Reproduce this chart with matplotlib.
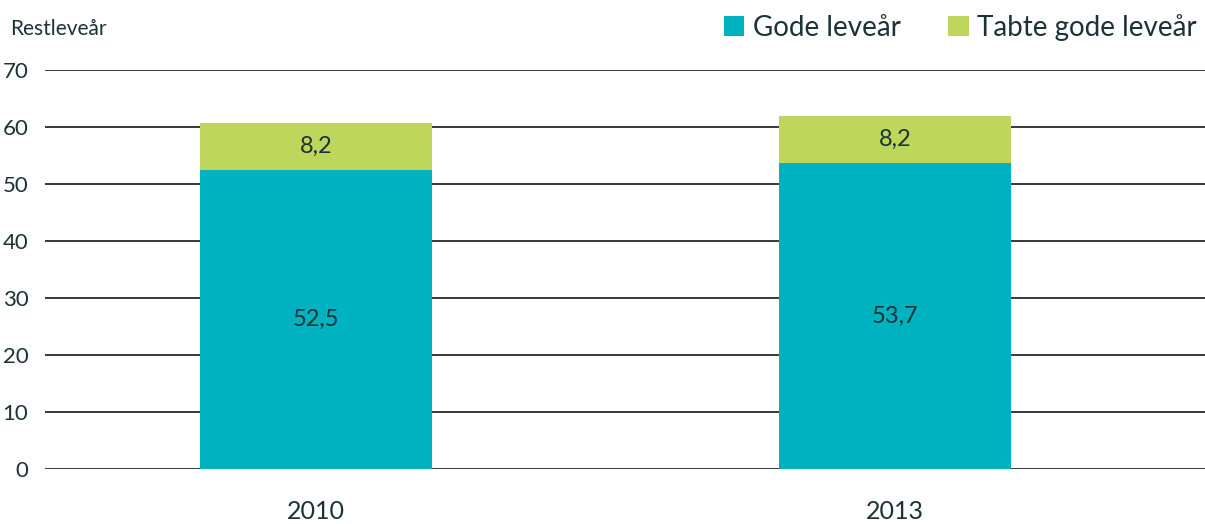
import numpy as np
import matplotlib.pyplot as plt

plt.rcParams['font.family'] = ['Lato', 'DejaVu Sans']

# Data
years = ["2010", "2013"]
gode = [52.5, 53.7]
tabte = [8.2, 8.2]
gode_labels = ["52,5", "53,7"]
tabte_labels = ["8,2", "8,2"]

teal = "#00b2c0"
green = "#bfd65c"
textcol = "#1b3236"

fig = plt.figure(figsize=(12.05, 5.24), dpi=100)
ax = fig.add_axes([0.0373, 0.105, 0.9627, 0.7615])

x = np.arange(len(years))
width = 0.40

# Stacked bars
b1 = ax.bar(x, gode, width, color=teal, label="Gode leveår", zorder=3)
b2 = ax.bar(x, tabte, width, bottom=gode, color=green, label="Tabte gode leveår", zorder=3)

# Value labels inside the bars
for i in range(len(years)):
    ax.text(x[i], gode[i] / 2, gode_labels[i], ha="center", va="center",
            fontsize=17, color=textcol, zorder=4)
    ax.text(x[i], gode[i] + tabte[i] / 2, tabte_labels[i], ha="center", va="center",
            fontsize=17, color=textcol, zorder=4)

ax.set_xlim(-0.468, 1.535)
ax.set_ylim(0, 70)
ax.set_yticks(range(0, 71, 10))
ax.set_xticks(x)
ax.set_xticklabels(years)
ax.yaxis.grid(True, color="#2a2a2a", linewidth=1.3, zorder=0)
ax.tick_params(axis="y", length=0, pad=12, labelsize=16, labelcolor=textcol)
ax.tick_params(axis="x", length=0, pad=22, labelsize=18, labelcolor=textcol)
for s in ax.spines.values():
    s.set_visible(False)

fig.text(0.008, 0.945, "Restleveår", fontsize=15, color=textcol, va="center", ha="left")

leg = fig.legend(handles=[b1, b2], loc="upper right", bbox_to_anchor=(1.008, 1.008),
                 ncol=2, frameon=False, fontsize=20, handlelength=0.75, handleheight=0.75,
                 handletextpad=0.3, columnspacing=1.7, borderaxespad=0.25)
for t in leg.get_texts():
    t.set_color(textcol)

fig.savefig("out.png", dpi=100)
